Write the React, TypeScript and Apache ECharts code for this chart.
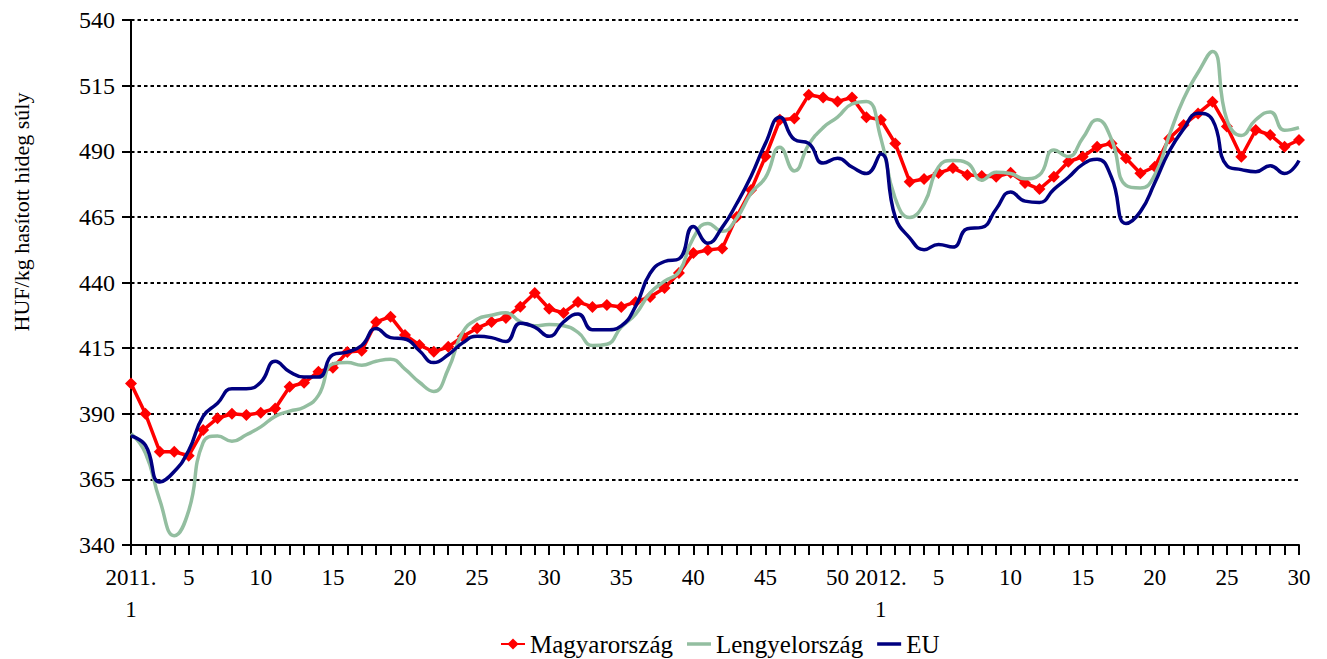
import React, { useEffect, useRef } from "react";
import * as echarts from "echarts";

// Week labels: 2011 weeks 1..52, 2012 weeks 1..30
const weeks2011: string[] = ["2011.\n1","2","3","4","5","6","7","8","9","10","11","12","13","14","15","16","17","18","19","20","21","22","23","24","25","26","27","28","29","30","31","32","33","34","35","36","37","38","39","40","41","42","43","44","45","46","47","48","49","50","51","52"];
const weeks2012: string[] = ["2012.\n1","2","3","4","5","6","7","8","9","10","11","12","13","14","15","16","17","18","19","20","21","22","23","24","25","26","27","28","29","30"];
const categories: string[] = [...weeks2011, ...weeks2012];

const yTicks = { min: 340, max: 540, step: 25 };

const magyarorszag: number[] = [
  401.5, 390, 375.5, 375.5, 374, 383.8, 388.3, 390, 389.5, 390.4,
  392, 400.3, 401.8, 406, 407.5, 413.5, 414, 425, 427, 420,
  416.2, 413.6, 415.5, 419.4, 422.6, 425, 426.5, 430.8, 436, 430,
  428.4, 432.6, 430.7, 431.4, 430.7, 432.6, 434.5, 437.9, 443.6, 451.2,
  452.4, 453, 465, 475.2, 488, 502, 502.5, 511.5, 510.5, 509,
  510.5, 503, 502, 493, 478.4, 479.4, 481.7, 483.6, 481, 480.6,
  480.3, 481.8, 477.9, 475.6, 480.3, 486, 487.9, 491.7, 493, 487.3,
  481.6, 484.1, 494.9, 500, 504.4, 508.9, 499.4, 487.9, 498.1, 496.2,
  491.7, 494.3,
];

const lengyelorszag: number[] = [
  382.5, 375, 357, 343.5, 353, 379, 381.5, 379.5, 382, 385,
  389, 391, 392.5, 397, 409, 409.5, 408.5, 410, 410.8, 407,
  402, 398.5, 407, 421, 426, 427.5, 428.5, 425, 423.5, 424,
  423.5, 421, 416, 416.5, 423, 428, 436, 440.5, 444, 457,
  462.5, 459.5, 464.5, 474, 480, 491.5, 482.5, 492.5, 499, 503,
  508, 509, 495, 472, 464.8, 470, 484, 486.5, 485.5, 479,
  482, 481.5, 479.5, 481, 490.5, 488, 495, 502, 494.5, 477,
  476, 481, 496, 510, 520, 528, 502, 496, 502, 505,
  498, 499,
];

const eu: number[] = [
  381.5, 378, 364, 368, 376, 389, 394, 399.5, 399.5, 402,
  410, 406, 404, 404, 412.5, 413.5, 416, 422.5, 419, 418.5,
  414, 409.5, 412.5, 417, 419.5, 419, 417.5, 424.5, 423, 419.5,
  425, 428, 422, 422, 423.5, 431, 443.5, 448, 449, 461.3,
  455, 461, 470, 480.5, 493, 503, 494.5, 493, 485.5, 487.3,
  484, 481.5, 489, 465, 457, 452.5, 454.5, 453.5, 460.5, 461,
  468, 474.5, 471, 470.5, 475.5, 480, 485, 487, 480, 462.5,
  467, 478, 490, 498.5, 504.5, 502, 484.5, 483, 482.2, 484.5,
  481.5, 486.5,
];

const seriesNames = ["Magyarország", "Lengyelország", "EU"];
const yAxisTitle = "HUF/kg hasított hideg súly";

const FONT = '"Liberation Serif", "Times New Roman", serif';
const LINE_ICON = "path://M0,0 L24,0 L24,3.5 L0,3.5 Z";

export default function App() {
  const ref = useRef<HTMLDivElement>(null);

  useEffect(() => {
    document.body.style.margin = "0";
    if (!ref.current) return;
    const chart = echarts.init(ref.current, undefined, { renderer: "svg" });
    chart.setOption({
      animation: false,
      backgroundColor: "#ffffff",
      textStyle: { fontFamily: FONT, color: "#000" },
      grid: { left: 131, right: 28, top: 20, bottom: 114, containLabel: false },
      legend: {
        left: 495,
        top: 626,
        itemWidth: 24,
        itemHeight: 14,
        itemGap: 14,
        symbolKeepAspect: true,
        textStyle: { fontFamily: FONT, fontSize: 25, lineHeight: 26, color: "#000" },
        data: [
          { name: seriesNames[0] },
          { name: seriesNames[1], icon: LINE_ICON },
          { name: seriesNames[2], icon: LINE_ICON },
        ],
      },
      graphic: [
        {
          type: "text",
          x: 21,
          y: 212,
          rotation: Math.PI / 2,
          style: {
            text: yAxisTitle,
            fontFamily: FONT,
            fontSize: 22,
            fill: "#000",
            align: "center",
            verticalAlign: "middle",
          },
        },
      ],
      xAxis: {
        type: "category",
        data: categories,
        boundaryGap: false,
        axisLine: { lineStyle: { color: "#000", width: 2 } },
        axisTick: { show: true, interval: 0, length: 10, lineStyle: { color: "#000", width: 2 } },
        axisLabel: {
          interval: (_idx: number, value: string) =>
            value.indexOf(".") >= 0 || Number(value) % 5 === 0,
          fontFamily: FONT,
          fontSize: 23,
          lineHeight: 32,
          color: "#000",
          margin: 16,
        },
        splitLine: { show: false },
      },
      yAxis: {
        type: "value",
        min: yTicks.min,
        max: yTicks.max,
        interval: yTicks.step,
        axisLine: { show: true, lineStyle: { color: "#000", width: 2 } },
        axisTick: { show: true, length: 9, lineStyle: { color: "#000", width: 2 } },
        axisLabel: { fontFamily: FONT, fontSize: 24, color: "#000", margin: 16 },
        splitLine: { show: true, lineStyle: { color: "#000", width: 2, type: [3.5, 3] } },
      },
      series: [
        {
          name: seriesNames[0],
          type: "line",
          data: magyarorszag,
          smooth: false,
          symbol: "diamond",
          symbolSize: 12,
          showSymbol: true,
          showAllSymbol: true,
          itemStyle: { color: "#ff0000" },
          lineStyle: { color: "#ff0000", width: 3.5 },
          z: 2,
        },
        {
          name: seriesNames[1],
          type: "line",
          data: lengyelorszag,
          smooth: 0.5,
          symbol: "none",
          itemStyle: { color: "#93bea0" },
          lineStyle: { color: "#93bea0", width: 3.5 },
          z: 3,
        },
        {
          name: seriesNames[2],
          type: "line",
          data: eu,
          smooth: 0.5,
          symbol: "none",
          itemStyle: { color: "#000080" },
          lineStyle: { color: "#000080", width: 3.5 },
          z: 4,
        },
      ],
    });
    return () => chart.dispose();
  }, []);

  return <div ref={ref} style={{ width: 1327, height: 659 }} />;
}
